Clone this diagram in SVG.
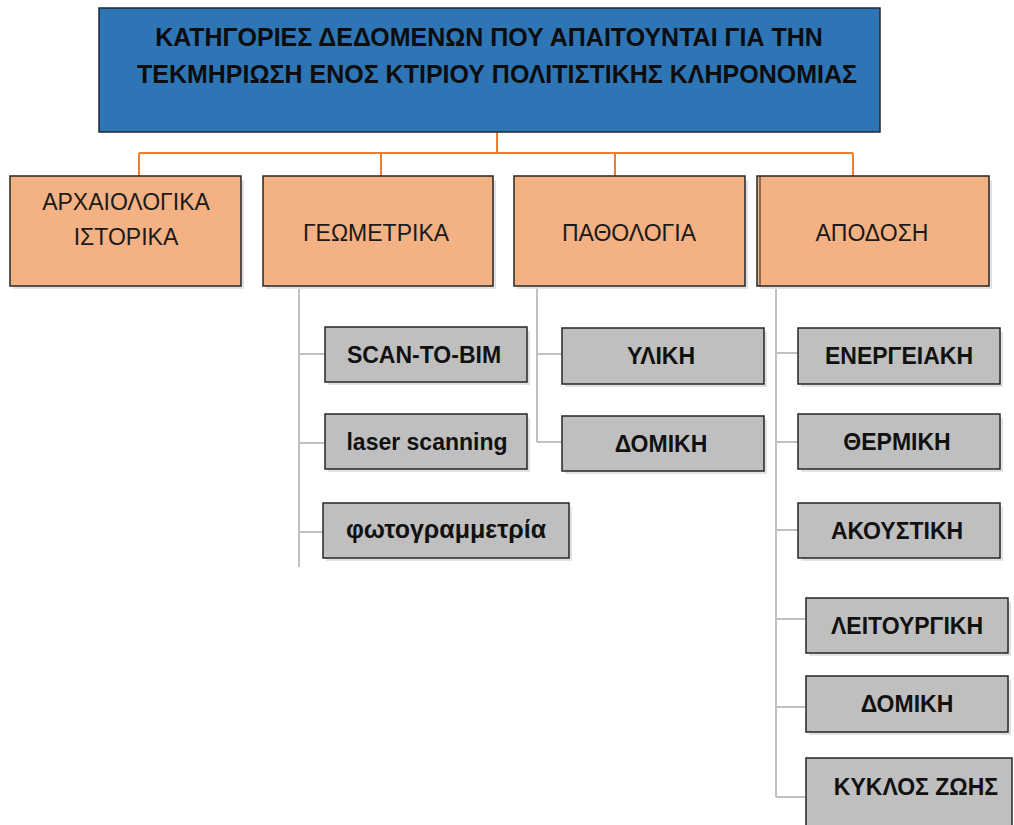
<svg xmlns="http://www.w3.org/2000/svg" width="1014" height="825" viewBox="0 0 1014 825">
  <style>
    .root { fill: #2e75b6; stroke: #1e2a36; stroke-width: 1.5; }
    .cat { fill: #f4b183; stroke: #262626; stroke-width: 1.5; }
    .sub { fill: #bfbfbf; stroke: #262626; stroke-width: 1.5; }
    .shadow { fill: #e2e2e2; }
    .t-root { font-family: "Liberation Sans", Arial, sans-serif; font-weight: bold; font-size: 25px; fill: #0d0d0d; text-anchor: middle; }
    .t-cat { font-family: "Liberation Sans", Arial, sans-serif; font-size: 23px; fill: #1a1a1a; text-anchor: middle; }
    .t-sub { font-family: "Liberation Sans", Arial, sans-serif; font-weight: bold; font-size: 23px; fill: #111; text-anchor: middle; }
    .c-top { fill: none; stroke: #ed7d31; stroke-width: 2; }
    .c-sub { fill: none; stroke: #c0c0c0; stroke-width: 2; }
  </style>
  <rect width="1014" height="825" fill="#ffffff"/>

  <g id="connectors">
    <path class="c-top" d="M497 132 V153 M139 153 H853 M139 153 V176 M381 153 V176 M615 153 V176 M853 153 V176"/>
    <path class="c-sub" d="M299 288 V567 M299 354 H325 M299 443 H325 M299 532 H323"/>
    <path class="c-sub" d="M537 288 V442 M537 354 H562 M537 442 H562"/>
    <path class="c-sub" d="M776 288 V797 M776 353 H798 M776 442 H798 M776 530 H798 M776 619 H806 M776 707 H806 M776 797 H806"/>
  </g>

  <g id="root">
    <rect class="root" x="99" y="8" width="781" height="124"/>
    <text class="t-root" x="489" y="46">ΚΑΤΗΓΟΡΙΕΣ ΔΕΔΟΜΕΝΩΝ ΠΟΥ ΑΠΑΙΤΟΥΝΤΑΙ ΓΙΑ ΤΗΝ</text>
    <text class="t-root" x="497" y="83">ΤΕΚΜΗΡΙΩΣΗ ΕΝΟΣ ΚΤΙΡΙΟΥ ΠΟΛΙΤΙΣΤΙΚΗΣ ΚΛΗΡΟΝΟΜΙΑΣ</text>
  </g>

  <g id="cat-archaiologika">
    <rect class="shadow" x="13" y="180" width="231" height="109"/>
    <rect class="cat" x="10" y="176" width="231" height="110"/>
    <text class="t-cat" x="126" y="210">ΑΡΧΑΙΟΛΟΓΙΚΑ</text>
    <text class="t-cat" x="126" y="245">ΙΣΤΟΡΙΚΑ</text>
  </g>
  <g id="cat-geometrika">
    <rect class="shadow" x="266" y="180" width="230" height="109"/>
    <rect class="cat" x="263" y="176" width="230" height="110"/>
    <text class="t-cat" x="376" y="241">ΓΕΩΜΕΤΡΙΚΑ</text>
  </g>
  <g id="cat-pathologia">
    <rect class="shadow" x="517" y="180" width="231" height="109"/>
    <rect class="cat" x="514" y="176" width="231" height="110"/>
    <text class="t-cat" x="629" y="241">ΠΑΘΟΛΟΓΙΑ</text>
  </g>
  <g id="cat-apodosi">
    <rect class="shadow" x="760" y="180" width="232" height="109"/>
    <rect class="cat" x="757" y="176" width="232" height="110"/>
    <line x1="760" y1="176" x2="760" y2="286" stroke="#262626" stroke-width="1"/>
    <text class="t-cat" x="872" y="241">ΑΠΟΔΟΣΗ</text>
  </g>

  <g id="sub-scan-to-bim">
    <rect class="shadow" x="328" y="331" width="202" height="54"/>
    <rect class="sub" x="325" y="327" width="202" height="55"/>
    <text class="t-sub" x="424" y="363">SCAN-TO-BIM</text>
  </g>
  <g id="sub-laser">
    <rect class="shadow" x="328" y="418" width="202" height="54"/>
    <rect class="sub" x="325" y="414" width="202" height="55"/>
    <text class="t-sub" x="427" y="450">laser scanning</text>
  </g>
  <g id="sub-photogrammetry">
    <rect class="shadow" x="326" y="507" width="246" height="54"/>
    <rect class="sub" x="323" y="503" width="246" height="55"/>
    <text class="t-sub" x="446" y="538" style="font-size:25px">φωτογραμμετρία</text>
  </g>

  <g id="sub-yliki">
    <rect class="shadow" x="565" y="332" width="202" height="55"/>
    <rect class="sub" x="562" y="328" width="202" height="56"/>
    <text class="t-sub" x="661" y="364">ΥΛΙΚΗ</text>
  </g>
  <g id="sub-domiki-1">
    <rect class="shadow" x="565" y="420" width="202" height="54"/>
    <rect class="sub" x="562" y="416" width="202" height="55"/>
    <text class="t-sub" x="661" y="452">ΔΟΜΙΚΗ</text>
  </g>

  <g id="sub-energeiaki">
    <rect class="shadow" x="801" y="332" width="202" height="55"/>
    <rect class="sub" x="798" y="328" width="202" height="56"/>
    <text class="t-sub" x="899" y="364">ΕΝΕΡΓΕΙΑΚΗ</text>
  </g>
  <g id="sub-thermiki">
    <rect class="shadow" x="801" y="418" width="202" height="54"/>
    <rect class="sub" x="798" y="414" width="202" height="55"/>
    <text class="t-sub" x="897" y="450">ΘΕΡΜΙΚΗ</text>
  </g>
  <g id="sub-akoustiki">
    <rect class="shadow" x="801" y="507" width="202" height="54"/>
    <rect class="sub" x="798" y="503" width="202" height="55"/>
    <text class="t-sub" x="897" y="539">ΑΚΟΥΣΤΙΚΗ</text>
  </g>
  <g id="sub-leitourgiki">
    <rect class="shadow" x="809" y="602" width="202" height="54"/>
    <rect class="sub" x="806" y="598" width="202" height="55"/>
    <text class="t-sub" x="907" y="634">ΛΕΙΤΟΥΡΓΙΚΗ</text>
  </g>
  <g id="sub-domiki-2">
    <rect class="shadow" x="809" y="680" width="202" height="55"/>
    <rect class="sub" x="806" y="676" width="202" height="56"/>
    <text class="t-sub" x="907" y="712">ΔΟΜΙΚΗ</text>
  </g>
  <g id="sub-kyklos">
    <rect class="sub" x="806" y="758" width="206" height="72"/>
    <text class="t-sub" x="916" y="795">ΚΥΚΛΟΣ ΖΩΗΣ</text>
  </g>
</svg>
